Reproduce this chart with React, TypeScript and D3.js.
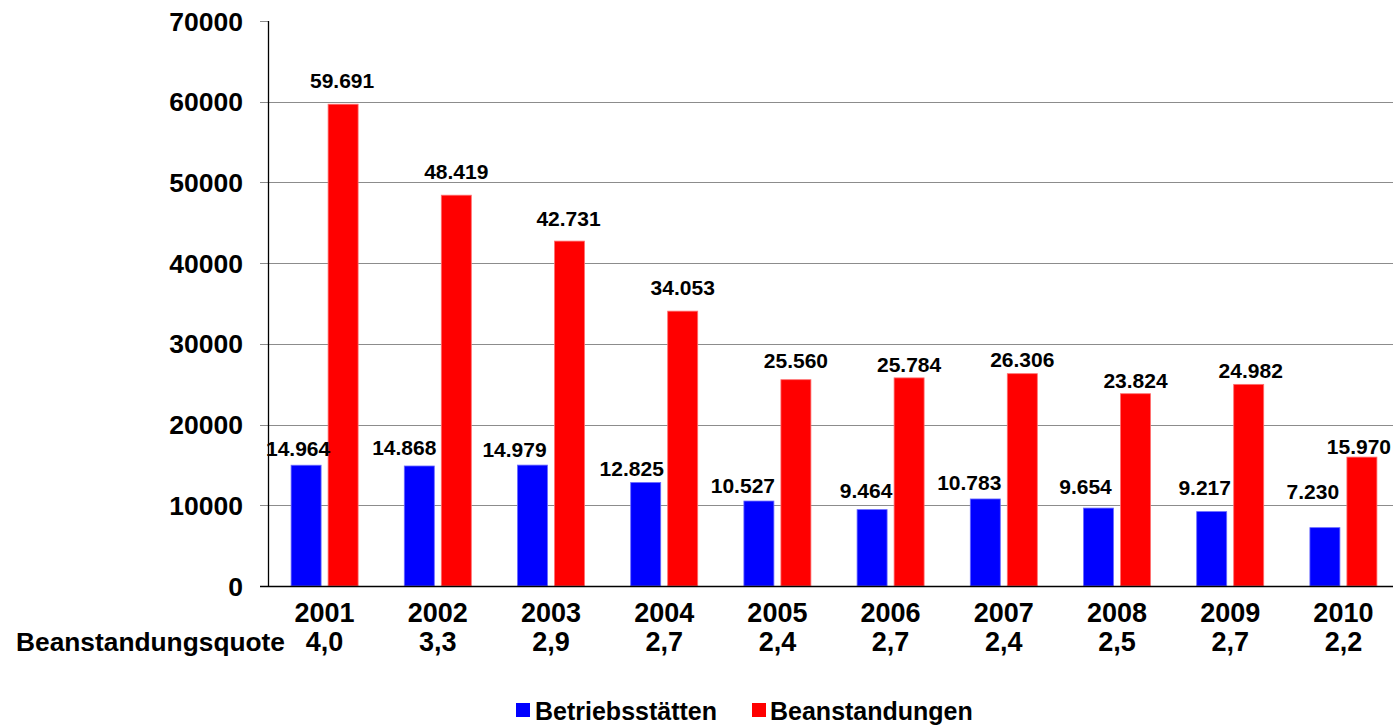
import React from "react";
import * as d3 from "d3";

const years = ["2001", "2002", "2003", "2004", "2005", "2006", "2007", "2008", "2009", "2010"];
const quote = ["4,0", "3,3", "2,9", "2,7", "2,4", "2,7", "2,4", "2,5", "2,7", "2,2"];
const betriebsstaetten = [14964, 14868, 14979, 12825, 10527, 9464, 10783, 9654, 9217, 7230];
const beanstandungen = [59691, 48419, 42731, 34053, 25560, 25784, 26306, 23824, 24982, 15970];
const yTicks = [0, 10000, 20000, 30000, 40000, 50000, 60000, 70000];
const seriesNames = ["Betriebsstätten", "Beanstandungen"];

// manual label placement (as in the original Excel chart): [dx, gap above bar]
const blueLabelShift: [number, number][] = [
  [-8, 9], [-15, 11], [-18, 8], [-14, 6], [-16, 8], [-6, 12], [-16, 9], [-13, 14], [-7, 17], [-12, 29],
];
const redLabelShift: [number, number][] = [
  [-1, 16], [0, 16], [-1, 15], [0, 16], [0, 12], [0, 6], [0, 7], [0, 6], [2, 6], [-3, 3],
];

const colors = ["#0000FF", "#FF0000"];
const strokes = ["#6b6bff", "#ff7070"];
const font = "'Liberation Sans', Arial, sans-serif";

export default function App() {
  const W = 1393, H = 726;
  const left = 268, right = 1400, top = 21, bottom = 586;
  const x0 = d3.scaleBand<string>().domain(years).range([left, right]).padding(0);
  const x1 = d3.scaleBand<string>().domain(seriesNames).range([0, x0.bandwidth()])
    .paddingInner(7 / 37).paddingOuter(0.624);
  const y = d3.scaleLinear().domain([0, 70000]).range([bottom, top]);
  const fmt = (v: number) => d3.format(",")(v).replace(/,/g, ".");
  const series = [betriebsstaetten, beanstandungen];
  const shifts = [blueLabelShift, redLabelShift];

  return (
    <svg width={W} height={H} style={{ position: "absolute", left: 0, top: 0, background: "#fff" }}
      fontFamily={font} fontWeight="bold">
      {/* gridlines */}
      {yTicks.filter(t => t > 0 && t < 70000).map(t => (
        <line key={"g" + t} x1={left} x2={right} y1={Math.round(y(t)) + 0.5} y2={Math.round(y(t)) + 0.5}
          stroke="#8c8c8c" strokeWidth={1} />
      ))}
      {/* tick marks */}
      {yTicks.map(t => (
        <line key={"t" + t} x1={260} x2={left} y1={Math.round(y(t)) + 0.5} y2={Math.round(y(t)) + 0.5}
          stroke="#8c8c8c" strokeWidth={1} />
      ))}
      {/* y tick labels */}
      {yTicks.map(t => (
        <text key={"l" + t} x={243} y={y(t) + 9.5} textAnchor="end" fontSize={26.5} fill="#000">{t}</text>
      ))}
      {/* bars */}
      {series.map((vals, s) =>
        vals.map((v, i) => {
          const bx = (x0(years[i]) as number) + (x1(seriesNames[s]) as number);
          return (
            <rect key={s + "-" + i} x={bx} y={y(v)} width={x1.bandwidth()} height={bottom - y(v)}
              fill={colors[s]} stroke={strokes[s]} strokeWidth={0.8} />
          );
        })
      )}
      {/* axes */}
      <line x1={left + 0.5} x2={left + 0.5} y1={top} y2={bottom} stroke="#000" strokeWidth={1.3} />
      <line x1={260} x2={right} y1={bottom + 0.5} y2={bottom + 0.5} stroke="#000" strokeWidth={1.3} />
      {/* value labels */}
      {series.map((vals, s) =>
        vals.map((v, i) => {
          const bx = (x0(years[i]) as number) + (x1(seriesNames[s]) as number) + x1.bandwidth() / 2;
          const [dx, gap] = shifts[s][i];
          return (
            <text key={"v" + s + "-" + i} x={bx + dx} y={y(v) - gap} textAnchor="middle" fontSize={21} fill="#000">
              {fmt(v)}
            </text>
          );
        })
      )}
      {/* category labels */}
      {years.map((yr, i) => (
        <text key={"c" + yr} x={(x0(yr) as number) + x0.bandwidth() / 2} y={622} textAnchor="middle"
          fontSize={27} fill="#000">{yr}</text>
      ))}
      <text x={16} y={651} fontSize={26} fill="#000" textLength={269} lengthAdjust="spacingAndGlyphs">Beanstandungsquote</text>
      {quote.map((q, i) => (
        <text key={"q" + i} x={(x0(years[i]) as number) + x0.bandwidth() / 2} y={651} textAnchor="middle"
          fontSize={27} fill="#000">{q}</text>
      ))}
      {/* legend */}
      <rect x={516} y={703} width={14} height={14} fill={colors[0]} />
      <text x={535} y={720} fontSize={25} fill="#000">{seriesNames[0]}</text>
      <rect x={752} y={703} width={14} height={14} fill={colors[1]} />
      <text x={770} y={720} fontSize={25} fill="#000">{seriesNames[1]}</text>
    </svg>
  );
}
